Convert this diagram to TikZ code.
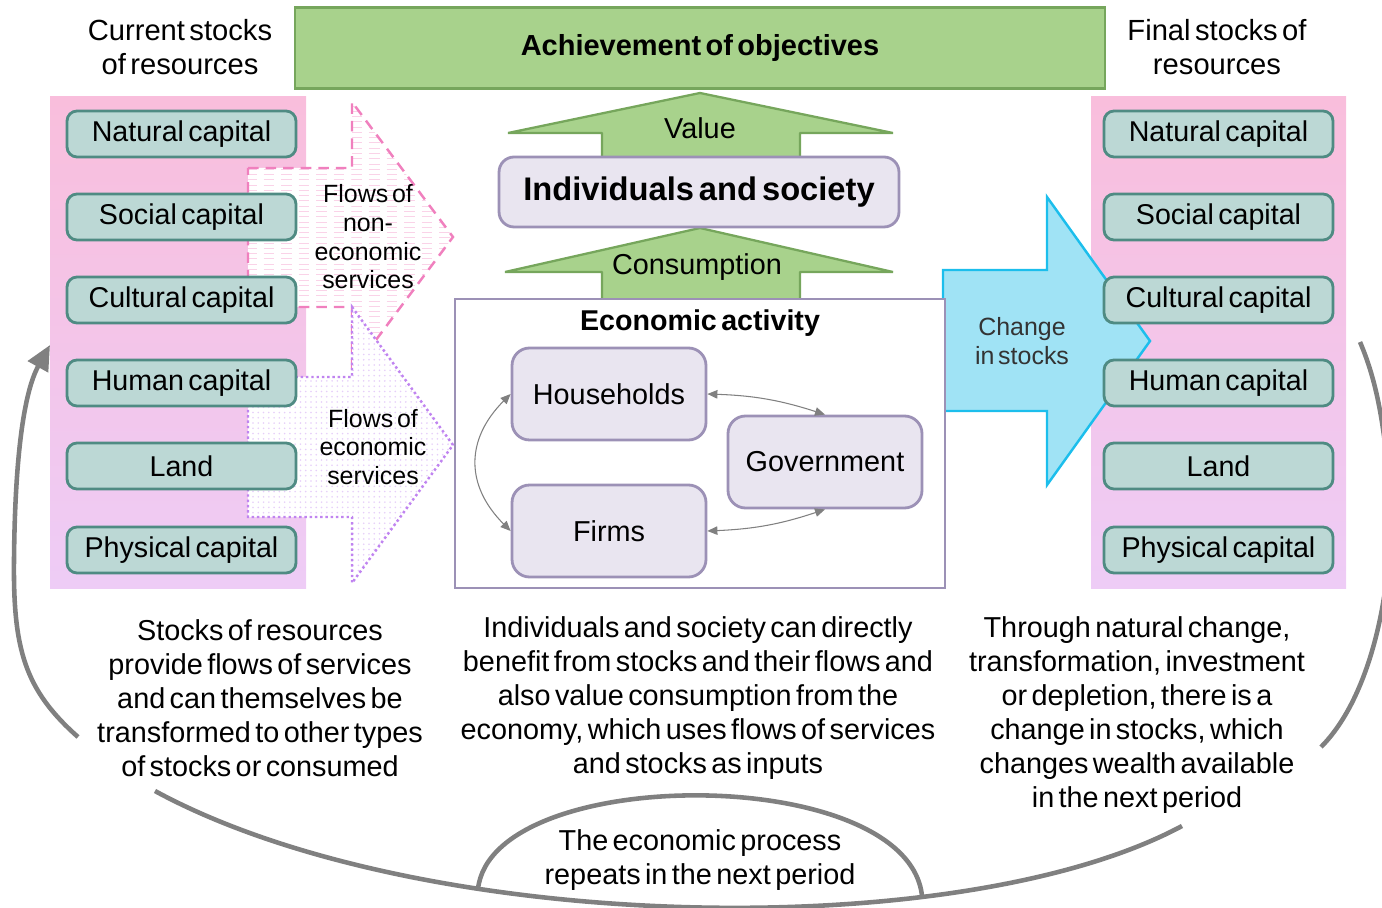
\documentclass[tikz,border=0pt]{standalone}
\usepackage{fontspec}
\setmainfont{Liberation Sans}[WordSpace=0.55]
\usetikzlibrary{patterns,arrows.meta}
\definecolor{capfill}{RGB}{188,216,213}
\definecolor{capline}{RGB}{79,139,131}
\definecolor{lavfill}{RGB}{233,229,240}
\definecolor{lavline}{RGB}{156,145,182}
\definecolor{grnfill}{RGB}{168,210,140}
\definecolor{grnline}{RGB}{118,166,92}
\definecolor{pnktop}{RGB}{249,190,220}
\definecolor{pnkbot}{RGB}{238,204,246}
\definecolor{nonecon}{RGB}{240,128,190}
\definecolor{econ}{RGB}{192,132,240}
\definecolor{stockfill}{RGB}{160,227,245}
\definecolor{stockline}{RGB}{28,190,236}
\definecolor{loopgray}{RGB}{128,128,128}
\tikzset{
capbox/.style={draw=capline, fill=capfill, line width=1.6pt, rounded corners=0.2cm,
  minimum width=4.58cm, minimum height=0.92cm, inner sep=0pt,
  font=\fontsize{16.3pt}{18pt}\selectfont},
actor/.style={draw=lavline, fill=lavfill, line width=1.6pt, rounded corners=0.35cm,
  minimum width=3.88cm, minimum height=1.84cm, font=\fontsize{16.4pt}{18pt}\selectfont},
bigtext/.style={align=center, font=\fontsize{16.4pt}{19.3pt}\selectfont},
flowtext/.style={align=center, font=\fontsize{14.2pt}{16.3pt}\selectfont},
greenarrow/.style={draw=grnline, fill=grnfill, line width=1.3pt, line join=bevel},
cycleline/.style={draw=loopgray, line width=2.6pt},
link/.style={<->, >={Triangle[length=0.2cm,width=0.17cm]}, draw=gray, line width=0.6pt}
}
\begin{document}
\begin{tikzpicture}[x=0.02cm,y=-0.02cm]
\useasboundingbox (0,0) rectangle (1382,908);
\shade[top color=pnktop,bottom color=pnkbot] (50,97) rectangle (306,588);
\shade[top color=pnktop,bottom color=pnkbot] (1091,97) rectangle (1346,588);
% flows out of the stocks
\draw[nonecon, line width=1.4pt, dash pattern=on 6pt off 4pt, preaction={fill=white},
  pattern=horizontal lines, pattern color=nonecon!35]
  (248,168) -- (352,168) -- (352,102) -- (453,237) -- (352,372) -- (352,307) -- (248,307) -- cycle;
\draw[econ, line width=1.4pt, dash pattern=on 1.4pt off 1.6pt, preaction={fill=white},
  pattern=dots, pattern color=econ!40]
  (248,377) -- (352,377) -- (352,307) -- (453,445) -- (352,583) -- (352,517) -- (248,517) -- cycle;
\node[flowtext] (nontxt) at (368,237) {Flows of\\non-\\economic\\services};
\node[flowtext] (ecotxt) at (373,447) {Flows of\\economic\\services};
\draw[stockline, fill=stockfill, line width=1.4pt]
  (943,270) -- (1047,270) -- (1047,197) -- (1150,341) -- (1047,485) -- (1047,411) -- (943,411) -- cycle;
\node[flowtext, text=black!80] (changetxt) at (1022,341) {Change\\in stocks};
\foreach \capname/\yy [count=\i] in {Natural capital/134, Social capital/217, Cultural capital/300,
  Human capital/383, Land/466, Physical capital/550} {
  \node[capbox] (L\i) at (181.5,\yy) {\capname};
  \node[capbox] (R\i) at (1218.5,\yy) {\capname};
}
\node[bigtext, font=\fontsize{16.6pt}{19.8pt}\selectfont] (curtitle) at (180,47) {Current stocks\\of resources};
\node[bigtext, font=\fontsize{16.6pt}{19.8pt}\selectfont] (fintitle) at (1217,47) {Final stocks of\\resources};
\node[draw=grnline, fill=grnfill, line width=1.6pt, minimum width=16.2cm, minimum height=1.62cm,
  font=\bfseries\fontsize{16.5pt}{18pt}\selectfont] (goal) at (700,48) {Achievement of objectives};
% society in the middle
\draw[greenarrow] (602,160) -- (602,133) -- (508,133) -- (700,93) -- (893,133) -- (800,133) -- (800,160);
\draw[greenarrow] (602,300) -- (602,272) -- (505,272) -- (700,228) -- (893,272) -- (800,272) -- (800,300);
\node[font=\fontsize{16.4pt}{18pt}\selectfont] (valtxt) at (700,128) {Value};
\node[font=\fontsize{16.4pt}{18pt}\selectfont] (constxt) at (697,267) {Consumption};
\node[draw=lavline, fill=lavfill, line width=1.6pt, rounded corners=0.3cm, minimum width=8cm,
  minimum height=1.4cm, font=\bfseries\fontsize{18.6pt}{21pt}\selectfont] (society) at (699,192)
  {Individuals and society};
\node[draw=lavline, fill=white, line width=1.6pt, minimum width=9.8cm, minimum height=5.78cm]
  (econbox) at (700,443.5) {};
\node[font=\bfseries\fontsize{16.3pt}{18pt}\selectfont] (econtitle) at (700,323) {Economic activity};
\node[actor] (hh) at (609,394) {Households};
\node[actor] (gov) at (825,462) {Government};
\node[actor] (fi) at (609,531) {Firms};
\draw[link] (hh.east) to[bend left=8] (gov.north);
\draw[link] (fi.east) to[bend right=8] (gov.south);
\draw[link] (hh.west) to[out=225,in=135,looseness=1.2] (fi.west);
% texts under the panels
\node[bigtext] (stocktxt) at (260,698) {Stocks of resources\\provide flows of services\\and can themselves be\\transformed to other types\\of stocks or consumed};
\node[bigtext] (usetxt) at (698,698) {Individuals and society can directly\\benefit from stocks and their flows and\\also value consumption from the\\economy, which uses flows of services\\and stocks as inputs};
\node[bigtext] (wealthtxt) at (1137,715) {Through natural change,\\transformation, investment\\or depletion, there is a\\change in stocks, which\\changes wealth available\\in the next period};
\node[bigtext, font=\fontsize{16.4pt}{19.8pt}\selectfont] (repeattxt) at (700,860) {The economic process\\repeats in the next period};
% the loop back to the start
\coordinate (lend) at (78,737);
\coordinate (ltip) at (50,345);
\coordinate (bl) at (155,791);
\coordinate (br) at (1182,826);
\coordinate (rlow) at (1321,747);
\coordinate (rtop) at (1360,342);
\coordinate (al) at (478,889);
\coordinate (ar) at (922,896);
\draw[cycleline, -{Triangle[length=0.5cm,width=0.45cm]}]
  (lend) .. controls (25,690) and (13,650) .. (14,560) .. controls (15,450) and (25,390) .. (ltip);
\draw[cycleline] (bl) .. controls (420,935) and (960,945) .. (br);
\draw[cycleline] (rlow) .. controls (1378,690) and (1398,560) .. (1388,470)
  .. controls (1382,410) and (1374,375) .. (rtop);
\draw[cycleline] (al) .. controls (492,763) and (908,763) .. (ar);
\end{tikzpicture}
\end{document}
